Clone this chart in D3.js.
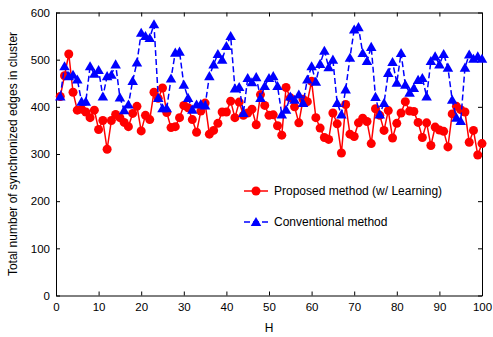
<!DOCTYPE html>
<html>
<head>
<meta charset="utf-8">
<script src="https://cdn.jsdelivr.net/npm/d3@7"></script>
<style>
  body { margin: 0; background: #fff; }
  text { font-family: "Liberation Sans", Arial, sans-serif; }
</style>
</head>
<body>
<div id="chart"></div>
<script>
// Data
const H = d3.range(1, 101)

const proposed = [
  422, 466, 512, 431, 393, 395, 389, 377, 393, 352,
  371, 310, 371, 384, 377, 367, 358, 386, 401, 349,
  382, 373, 431, 418, 440, 388, 356, 358, 377, 403,
  398, 373, 346, 391, 408, 342, 350, 365, 389, 389,
  412, 377, 410, 382, 387, 395, 362, 426, 403, 382,
  383, 360, 340, 441, 419, 400, 366, 416, 411, 454,
  377, 355, 335, 331, 387, 364, 302, 405, 342, 337,
  366, 376, 369, 322, 396, 382, 350, 392, 334, 365,
  387, 411, 391, 390, 367, 335, 366, 318, 357, 351,
  348, 315, 385, 401, 394, 389, 325, 350, 298, 322
]

const conventional = [
  422, 486, 465, 468, 458, 411, 411, 486, 470, 478,
  422, 465, 468, 490, 420, 393, 405, 455, 494, 557,
  550, 546, 575, 419, 397, 397, 460, 515, 517, 447,
  419, 394, 405, 406, 403, 465, 490, 512, 500, 529,
  550, 439, 442, 387, 461, 452, 463, 419, 444, 461,
  465, 444, 384, 394, 422, 415, 426, 408, 458, 486,
  453, 491, 519, 484, 500, 408, 384, 437, 504, 564,
  569, 514, 497, 527, 421, 384, 408, 472, 495, 451,
  514, 447, 430, 440, 457, 461, 422, 497, 507, 490,
  512, 483, 415, 377, 370, 483, 511, 502, 507, 502
]

const xTicks = [0, 10, 20, 30, 40, 50, 60, 70, 80, 90, 100]
const yTicks = [0, 100, 200, 300, 400, 500, 600]

const seriesNames = ["Proposed method (w/ Learning)", "Conventional method"]

// Dimensions
const width = 493
const height = 337
const margin = { left: 56, right: 11, top: 12.5, bottom: 41.5 }

const svg = d3.select("#chart")
  .append("svg")
  .attr("width", width)
  .attr("height", height)

const x = d3.scaleLinear()
  .domain([0, 100])
  .range([margin.left, width - margin.right])

const y = d3.scaleLinear()
  .domain([0, 600])
  .range([height - margin.bottom, margin.top])

// Axes (MATLAB style box, ticks pointing in)
const axisStyle = g => {
  g.select(".domain").attr("stroke", "#000").attr("stroke-width", 1)
  g.selectAll(".tick line").attr("stroke", "#000")
  g.selectAll("text").attr("font-size", 11.5).attr("fill", "#000")
}

svg.append("g")
  .attr("transform", `translate(0,${y(0)})`)
  .call(d3.axisBottom(x).tickValues(xTicks).tickSizeInner(-4).tickSizeOuter(0).tickPadding(7))
  .call(axisStyle)

svg.append("g")
  .attr("transform", `translate(0,${y(600)})`)
  .call(d3.axisTop(x).tickValues(xTicks).tickSizeInner(-4).tickSizeOuter(0).tickFormat(""))
  .call(axisStyle)

svg.append("g")
  .attr("transform", `translate(${x(0)},0)`)
  .call(d3.axisLeft(y).tickValues(yTicks).tickSizeInner(-4).tickSizeOuter(0).tickPadding(6))
  .call(axisStyle)

svg.append("g")
  .attr("transform", `translate(${x(100)},0)`)
  .call(d3.axisRight(y).tickValues(yTicks).tickSizeInner(-4).tickSizeOuter(0).tickFormat(""))
  .call(axisStyle)

// Axis titles
svg.append("text")
  .attr("x", (x(0) + x(100)) / 2)
  .attr("y", 332)
  .attr("text-anchor", "middle")
  .attr("font-size", 12)
  .text("H")

svg.append("text")
  .attr("transform", `translate(17,${(y(0) + y(600)) / 2}) rotate(-90)`)
  .attr("text-anchor", "middle")
  .attr("font-size", 12)
  .text("Total number of synchronized edges in cluster")

// Series
const line = d3.line()
  .x((d, i) => x(H[i]))
  .y(d => y(d))

const tri = d3.symbol().type(d3.symbolTriangle).size(48)

const red = svg.append("g")
red.append("path")
  .datum(proposed)
  .attr("fill", "none")
  .attr("stroke", "#ff0000")
  .attr("stroke-width", 1.5)
  .attr("d", line)
red.selectAll("circle")
  .data(proposed)
  .join("circle")
  .attr("cx", (d, i) => x(H[i]))
  .attr("cy", d => y(d))
  .attr("r", 4.5)
  .attr("fill", "#ff0000")

const blue = svg.append("g")
blue.append("path")
  .datum(conventional)
  .attr("fill", "none")
  .attr("stroke", "#0000ff")
  .attr("stroke-width", 1.5)
  .attr("stroke-dasharray", "6,3")
  .attr("d", line)
blue.selectAll("path.m")
  .data(conventional)
  .join("path")
  .attr("class", "m")
  .attr("transform", (d, i) => `translate(${x(H[i])},${y(d) + 1})`)
  .attr("d", tri)
  .attr("fill", "#0000ff")

// Legend
const legend = svg.append("g").attr("transform", "translate(244,191)")

legend.append("line")
  .attr("x1", 0).attr("x2", 24)
  .attr("stroke", "#ff0000").attr("stroke-width", 1.5)
legend.append("circle")
  .attr("cx", 12).attr("r", 4.5).attr("fill", "#ff0000")
legend.append("text")
  .attr("x", 30).attr("dy", "0.35em")
  .attr("font-size", 12)
  .text(seriesNames[0])

legend.append("line")
  .attr("x1", 0).attr("x2", 24)
  .attr("y1", 31).attr("y2", 31)
  .attr("stroke", "#0000ff").attr("stroke-width", 1.5)
  .attr("stroke-dasharray", "6,3")
legend.append("path")
  .attr("transform", "translate(12,32)")
  .attr("d", tri)
  .attr("fill", "#0000ff")
legend.append("text")
  .attr("x", 30).attr("y", 31).attr("dy", "0.35em")
  .attr("font-size", 12)
  .text(seriesNames[1])
</script>
</body>
</html>
